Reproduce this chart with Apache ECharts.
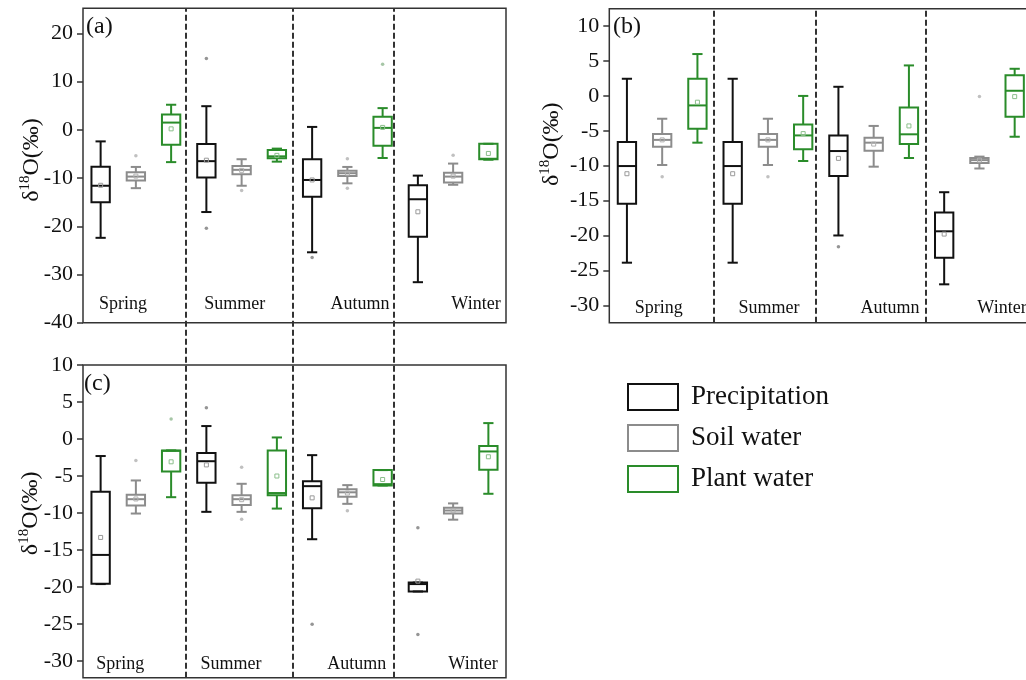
<!DOCTYPE html>
<html><head><meta charset="utf-8">
<script src="https://cdn.jsdelivr.net/npm/echarts@6.0.0/dist/echarts.min.js"></script>
<style>html,body{margin:0;padding:0;background:#fff}#c{width:1026px;height:680px}</style>
</head><body><div id="c"></div>
<script>
// ---------- data ----------
const seasons = ['Spring', 'Summer', 'Autumn', 'Winter'];
const groups = ['Precipitation', 'Soil water', 'Plant water'];
const yTicksA = [-40, -30, -20, -10, 0, 10, 20];
const yTicksB = [-30, -25, -20, -15, -10, -5, 0, 5, 10];
const yTicksC = [-30, -25, -20, -15, -10, -5, 0, 5, 10];

// box stats per season: [min, Q1, median, Q3, max]
const aPrecip = [[-22.4, -15.0, -11.6, -7.65, -2.4], [-17.05, -9.9, -6.5, -2.95, 4.9], [-25.4, -13.9, -10.4, -6.1, 0.6], [-31.6, -22.2, -14.4, -11.5, -9.5]];
const aPrecipMean = [-11.5, -6.3, -10.4, -17.0];
const aPrecipOut = [[], [14.8, -20.4], [-26.5], []];
const aSoil = [[-12.1, -10.5, -9.7, -8.8, -7.7], [-11.6, -9.2, -8.3, -7.5, -6.1], [-11.1, -9.6, -9.0, -8.5, -7.7], [-11.4, -10.9, -9.7, -8.9, -7.0]];
const aSoilMean = [-9.6, -8.4, -9.0, -9.6];
const aSoilOut = [[-5.4], [-12.6], [-6.0, -12.1], [-5.3]];
const aPlant = [[-6.7, -3.1, 1.5, 3.2, 5.2], [-6.6, -5.9, -5.5, -4.2, -3.9], [-5.85, -3.3, 0.4, 2.7, 4.5], [-6.2, -6.1, -6.0, -2.9, -2.9]];
const aPlantMean = [0.2, -5.3, 0.5, -4.9];
const aPlantOut = [[], [], [13.6], []];

const bPrecip = [[-23.9, -15.44, -10.05, -6.6, 2.46], [-23.9, -15.44, -10.05, -6.6, 2.46], [-20.0, -11.48, -7.9, -5.66, 1.31], [-27.0, -23.2, -19.4, -16.7, -13.8]];
const bPrecipMean = [-11.15, -11.15, -8.95, -19.8];
const bPrecipOut = [[], [], [-21.6], []];
const bSoil = [[-9.9, -7.3, -6.3, -5.47, -3.27], [-9.9, -7.3, -6.3, -5.47, -3.27], [-10.14, -7.85, -6.7, -6.0, -4.3], [-10.4, -9.6, -9.2, -8.9, -8.7]];
const bSoilMean = [-6.3, -6.3, -6.9, -9.2];
const bSoilOut = [[-11.6], [-11.6], [], [-0.1]];
const bPlant = [[-6.7, -4.7, -1.36, 2.46, 6.0], [-9.33, -7.66, -5.66, -4.08, 0.0], [-8.9, -6.9, -5.5, -1.65, 4.37], [-5.85, -2.98, 0.74, 2.98, 3.89]];
const bPlantMean = [-0.9, -5.4, -4.3, -0.1];
const bPlantOut = [[], [], [], []];

const cPrecip = [[-19.6, -19.54, -15.66, -7.14, -2.3], [-9.84, -5.92, -3.0, -1.9, 1.75], [-13.54, -9.35, -6.37, -5.7, -2.18], [-20.6, -20.6, -19.6, -19.4, -19.4]];
const cPrecipMean = [-13.3, -3.5, -7.95, -19.2];
const cPrecipOut = [[], [4.23], [-25.04], [-12.0, -26.4]];
const cSoil = [[-10.07, -8.99, -8.13, -7.54, -5.6], [-9.84, -8.9, -8.13, -7.6, -6.05], [-8.76, -7.8, -7.2, -6.8, -6.23], [-10.9, -10.07, -9.66, -9.3, -8.7]];
const cSoilMean = [-8.1, -8.2, -7.3, -9.7];
const cSoilOut = [[-2.9], [-3.8, -10.83], [-9.7], []];
const cPlant = [[-7.86, -4.39, -1.6, -1.54, -1.54], [-9.4, -7.6, -7.3, -1.54, 0.21], [-6.28, -6.28, -6.1, -4.2, -4.2], [-7.4, -4.16, -1.68, -0.96, 2.15]];
const cPlantMean = [-3.08, -5.0, -5.47, -2.4];
const cPlantOut = [[2.69], [], [], []];

// ---------- styling / layout ----------
const colors = ['#111111', '#8c8c8c', '#2a8c2a'];
const meanColors = ['#9a9a9a', '#b0b0b0', '#8cbf8c'];
const outColors = ['#7a7a7a', '#b0b0b0', '#90b890'];
const FONT = 'Liberation Serif';
const cats = [];
seasons.forEach(s => groups.forEach(g => cats.push(s + ' ' + g)));

const panels = [
  { label: '(a)', left: 83, top: 8.3, height: 314.4, yMin: -40, yMax: 25.2, ticks: yTicksA, namePad: 11, nameGap: 37,
    labelPos: [86, 15], seasonX: [40, 151.7, 277, 393], seasonY: 304,
    stats: [[aPrecip, aPrecipMean, aPrecipOut], [aSoil, aSoilMean, aSoilOut], [aPlant, aPlantMean, aPlantOut]] },
  { label: '(b)', left: 609.3, top: 8.7, height: 314, yMin: -32.5, yMax: 12.5, ticks: yTicksB, namePad: 43, nameGap: 44,
    labelPos: [613, 15], seasonX: [49.5, 159.7, 280.7, 392.7], seasonY: 308,
    stats: [[bPrecip, bPrecipMean, bPrecipOut], [bSoil, bSoilMean, bSoilOut], [bPlant, bPlantMean, bPlantOut]] },
  { label: '(c)', left: 83, top: 365, height: 312.7, yMin: -32.25, yMax: 10, ticks: yTicksC, namePad: 16, nameGap: 38,
    labelPos: [84, 372], seasonX: [37.3, 148, 273.7, 390], seasonY: 664,
    stats: [[cPrecip, cPrecipMean, cPrecipOut], [cSoil, cSoilMean, cSoilOut], [cPlant, cPlantMean, cPlantOut]] }
];
const PW = 423;
const sepLeft = [3.42, 6.46, 9.32];
const sepRight = [3.46, 6.37, 9.47];

function renderBox(color, meanColor) {
  return function (params, api) {
    const x = api.value(0);
    const mn = api.coord([x, api.value(1)]);
    const q1 = api.coord([x, api.value(2)]);
    const md = api.coord([x, api.value(3)]);
    const q3 = api.coord([x, api.value(4)]);
    const mx = api.coord([x, api.value(5)]);
    const mean = api.coord([x, api.value(6)]);
    const band = api.size([1, 0])[0];
    const bw = band * 0.52, cw = band * 0.29;
    const cx = mn[0];
    const ls = { stroke: color, lineWidth: 2, fill: null };
    return { type: 'group', children: [
      { type: 'line', shape: { x1: cx, y1: q3[1], x2: cx, y2: mx[1] }, style: ls },
      { type: 'line', shape: { x1: cx, y1: q1[1], x2: cx, y2: mn[1] }, style: ls },
      { type: 'line', shape: { x1: cx - cw / 2, y1: mx[1], x2: cx + cw / 2, y2: mx[1] }, style: ls },
      { type: 'line', shape: { x1: cx - cw / 2, y1: mn[1], x2: cx + cw / 2, y2: mn[1] }, style: ls },
      { type: 'rect', shape: { x: cx - bw / 2, y: q3[1], width: bw, height: Math.max(q1[1] - q3[1], 1) }, style: { stroke: color, lineWidth: 2, fill: 'rgba(255,255,255,0)' } },
      { type: 'line', shape: { x1: cx - bw / 2, y1: md[1], x2: cx + bw / 2, y2: md[1] }, style: ls },
      { type: 'rect', shape: { x: cx - 2, y: mean[1] - 2, width: 4, height: 4 }, style: { stroke: meanColor, lineWidth: 1, fill: 'rgba(255,255,255,0)' } }
    ] };
  };
}

const grid = [], xAxis = [], yAxis = [], series = [], graphic = [];
panels.forEach((p, pi) => {
  const gi = grid.length;
  grid.push({ left: p.left, top: p.top, width: PW, height: p.height, show: true, borderColor: '#333', borderWidth: 1.5,
    backgroundColor: 'rgba(0,0,0,0)', outerBoundsMode: 'none', containLabel: false });
  xAxis.push({ type: 'category', gridIndex: gi, data: cats, show: false, boundaryGap: true });
  yAxis.push({ type: 'value', gridIndex: gi, min: p.yMin, max: p.yMax,
    axisLine: { show: false }, axisTick: { show: false }, axisLabel: { show: false }, splitLine: { show: false },
    name: '{a|δ}{s|18}{a|O(‰)}', nameLocation: 'middle', nameRotate: 90, nameGap: p.nameGap,
    nameTextStyle: { fontFamily: FONT, fontSize: 24, color: '#111', padding: [0, 0, 0, p.namePad],
      rich: { a: { fontFamily: FONT, fontSize: 24, color: '#111', lineHeight: 28 }, s: { fontFamily: FONT, fontSize: 15, color: '#111', verticalAlign: 'top', lineHeight: 28 } } } });
  groups.forEach((g, k) => {
    const [box, mean, outs] = p.stats[k];
    const data = box.map((b, si) => [si * 3 + k, b[0], b[1], b[2], b[3], b[4], mean[si]]);
    series.push({ type: 'custom', name: g, xAxisIndex: gi, yAxisIndex: gi, data,
      encode: { x: 0, y: [1, 2, 3, 4, 5, 6] }, renderItem: renderBox(colors[k], meanColors[k]),
      itemStyle: { color: colors[k] }, z: 3 });
    const od = [];
    outs.forEach((arr, si) => arr.forEach(v => od.push([si * 3 + k, v])));
    series.push({ type: 'scatter', name: g, xAxisIndex: gi, yAxisIndex: gi, data: od, symbol: 'circle', symbolSize: 3.5,
      itemStyle: { color: outColors[k] }, z: 4, silent: true });
  });
  const ti = grid.length;
  const tMin = p.ticks[0], tMax = p.ticks[p.ticks.length - 1];
  const scale = p.height / (p.yMax - p.yMin);
  grid.push({ left: p.left, width: PW, top: p.top + (p.yMax - tMax) * scale, height: (tMax - tMin) * scale, show: false,
    outerBoundsMode: 'none', containLabel: false });
  xAxis.push({ type: 'value', gridIndex: ti, show: false, min: 0, max: 1 });
  yAxis.push({ type: 'value', gridIndex: ti, min: tMin, max: tMax, interval: p.ticks[1] - p.ticks[0],
    axisLine: { show: false }, splitLine: { show: false },
    axisTick: { show: true, length: 6, lineStyle: { color: '#333', width: 1.5 } },
    axisLabel: { fontFamily: FONT, fontSize: 22, color: '#111', margin: 10 } });
  graphic.push({ type: 'text', left: p.labelPos[0], top: p.labelPos[1], style: { text: p.label, font: '24px "' + FONT + '"', fill: '#111' } });
  seasons.forEach((s, si) => {
    graphic.push({ type: 'text', x: p.left + p.seasonX[si], y: p.seasonY, style: { text: s, font: '18px "' + FONT + '"', fill: '#111', align: 'center', verticalAlign: 'middle' } });
  });
});

function addSep(left, top, bottom, seps) {
  const gi = grid.length;
  grid.push({ left, width: PW, top, height: bottom - top, show: false, outerBoundsMode: 'none', containLabel: false });
  xAxis.push({ type: 'value', gridIndex: gi, show: false, min: 0.5, max: 12.5 });
  yAxis.push({ type: 'value', gridIndex: gi, show: false, min: 0, max: 1 });
  series.push({ type: 'line', xAxisIndex: gi, yAxisIndex: gi, data: [], silent: true,
    markLine: { silent: true, symbol: 'none', animation: false, label: { show: false },
      lineStyle: { type: [6, 3], color: '#333', width: 2 }, data: seps.map(v => ({ xAxis: v })) } });
}
addSep(83, 8.3, 677.7, sepLeft);
addSep(609.3, 8.7, 322.7, sepRight);

const chart = echarts.init(document.getElementById('c'), null, { renderer: 'canvas' });
chart.setOption({
  animation: false,
  backgroundColor: '#fff',
  grid, xAxis, yAxis, series, graphic,
  legend: {
    left: 622, top: 378, orient: 'vertical', itemWidth: 50, itemHeight: 26, itemGap: 13,
    textStyle: { fontFamily: FONT, fontSize: 27, color: '#111', padding: [0, 0, 0, 8] },
    data: groups.map((g, k) => ({ name: g, icon: 'rect', itemStyle: { color: 'rgba(255,255,255,0)', borderColor: colors[k], borderWidth: 2 } }))
  }
});
</script></body></html>
